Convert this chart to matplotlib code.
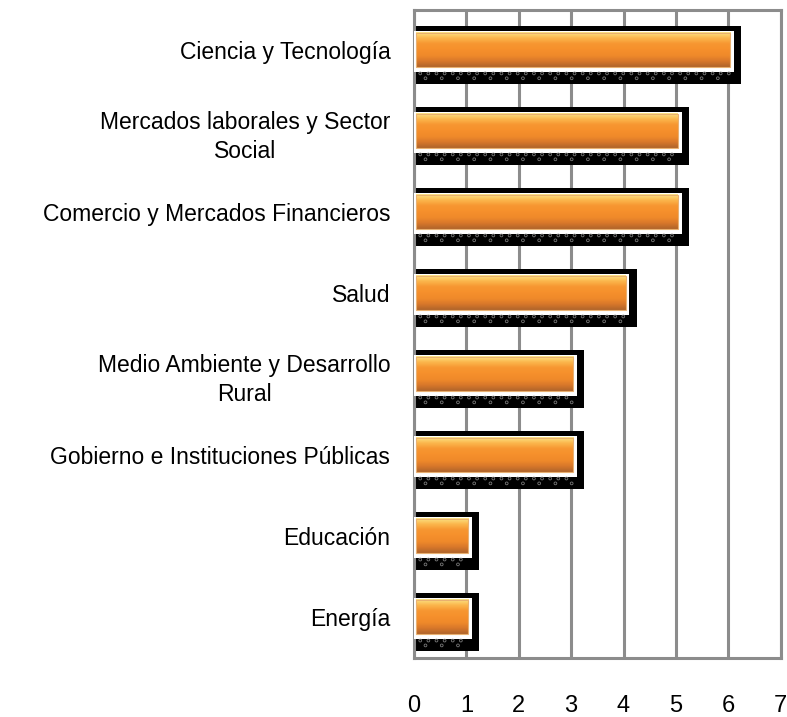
import matplotlib.pyplot as plt
import numpy as np
from matplotlib.patches import Rectangle
from matplotlib.colors import LinearSegmentedColormap

# categories top to bottom
categories = ['Ciencia y Tecnología',
              'Mercados laborales y Sector\nSocial',
              'Comercio y Mercados Financieros',
              'Salud',
              'Medio Ambiente y Desarrollo\nRural',
              'Gobierno e Instituciones Públicas',
              'Educación',
              'Energía']
values = [6, 5, 5, 4, 3, 3, 1, 1]
xticks = [0, 1, 2, 3, 4, 5, 6, 7]

plt.rcParams['font.family'] = ['Liberation Sans', 'DejaVu Sans']

fig = plt.figure(figsize=(7.87, 7.17), dpi=100)
ax = fig.add_axes([0.526, 0.0823, 0.466, 0.904])

n = len(categories)

# vertical grid
for t in xticks:
    ax.axvline(t, color='#8c8c8c', lw=2.2, zorder=0)

# orange gradient, light top -> dark bottom
grad_cmap = LinearSegmentedColormap.from_list(
    'bar', ['#fde586', '#fbb64c', '#f79631', '#f6902c', '#f08a2a', '#d9782a', '#b0642a'])
grad = np.linspace(0, 1, 64).reshape(-1, 1)

for i, v in enumerate(values):
    # black shadow block
    ax.add_patch(Rectangle((0, i - 0.30), v + 0.25, 0.71,
                           facecolor='black', edgecolor='none', zorder=2))
    # white frame
    ax.add_patch(Rectangle((0, i - 0.24), v + 0.11, 0.505,
                           facecolor='white', edgecolor='none', zorder=3))
    # dotted pattern in the shadow
    xs1 = np.arange(0.12, v + 0.05, 0.155)
    xs2 = np.arange(0.22, v + 0.05, 0.31)
    ax.scatter(xs1, np.full(len(xs1), i + 0.285), s=4, facecolor='none',
               edgecolor='#7a7a7a', lw=0.6, zorder=4)
    ax.scatter(xs2, np.full(len(xs2), i + 0.345), s=4, facecolor='none',
               edgecolor='#7a7a7a', lw=0.6, zorder=4)
    # orange bar with gradient
    ax.imshow(grad, cmap=grad_cmap, aspect='auto',
              extent=(0.04, v + 0.04, i + 0.21, i - 0.21), zorder=5,
              interpolation='bilinear')
    ax.add_patch(Rectangle((0.04, i - 0.21), v, 0.42, facecolor='none',
                           edgecolor='#e9b070', lw=0.8, zorder=6))

ax.set_xlim(0, 7)
ax.set_ylim(n - 0.5, -0.5)

ax.set_yticks(range(n))
ax.set_yticklabels(categories, fontsize=16.5, multialignment='center',
                   linespacing=1.35)
ax.set_xticks(xticks)
ax.set_xticklabels([str(t) for t in xticks], fontsize=17)
ax.tick_params(axis='y', length=0, pad=17)
ax.tick_params(axis='x', length=0, pad=27)

for s in ax.spines.values():
    s.set_color('#8c8c8c')
    s.set_linewidth(2.2)

fig.savefig('out.png', dpi=100)
